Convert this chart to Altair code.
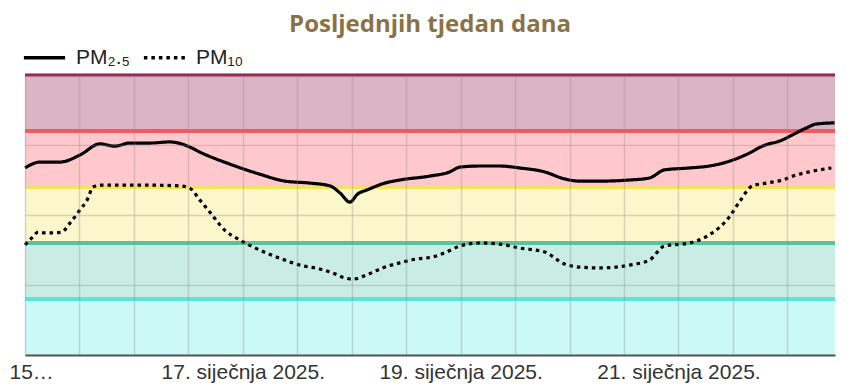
import altair as alt
import pandas as pd

# ---- data ----
pm25_hours = [0, 3.3, 7.7, 12.1, 16.5, 19.8, 23.1, 27.5, 31.9, 36.3, 38.5, 45.1, 51.7, 57.3,
              62.8, 67.2, 69.4, 71.6, 73.3, 75.3, 79.3, 82.6, 89.2, 93.6, 95.8, 100.2, 104.6,
              109.0, 114.5, 118.9, 122.2, 126.6, 133.2, 137.6, 140.9, 146.4, 150.8, 154.6,
              159.6, 162.5, 166.9, 169.1, 172.2, 174.4, 178.4]
pm25_vals = [66.8, 68.9, 68.9, 71.4, 75.4, 74.6, 75.7, 75.7, 76.1, 74.3, 72.5, 68.2, 64.6, 62.1,
             61.4, 60.4, 57.9, 54.6, 57.5, 58.9, 61.4, 62.5, 63.9, 65.4, 67.1, 67.5, 67.5,
             66.8, 65.4, 62.9, 62.1, 62.1, 62.5, 63.2, 66.1, 66.8, 67.5, 68.9,
             72.1, 74.6, 76.8, 78.6, 81.1, 82.5, 82.9]

pm10_hours = [0, 1.5, 2.9, 4.4, 6.2, 8.1, 9.9, 12.1, 13.7, 15.0, 16.5, 25.3, 34.1, 36.3, 38.5,
              40.7, 44.0, 47.3, 51.7, 56.1, 60.6, 65.0, 67.8, 70.5, 72.2, 75.3, 78.8, 82.6,
              86.3, 89.8, 92.9, 95.8, 100.2, 104.6, 109.0, 114.5, 118.9, 122.2, 126.6, 133.2,
              137.6, 140.9, 146.4, 150.8, 155.2, 157.4, 160.3, 163.4, 166.9, 170.0, 172.8, 177.7]
pm10_vals = [39.3, 41.8, 43.9, 43.6, 43.6, 43.9, 47.1, 51.8, 55.4, 60.0, 60.7, 60.7, 60.4, 59.6,
             55.4, 51.1, 44.6, 41.1, 37.5, 34.6, 32.1, 30.7, 29.3, 27.5, 27.1, 28.6, 31.1, 32.9,
             34.3, 35.0, 36.8, 38.9, 40.0, 39.6, 38.2, 36.8, 32.5, 31.4, 31.1, 32.1,
             33.9, 38.9, 40.0, 42.9, 49.3, 54.6, 60.4, 61.4, 62.5, 64.3, 65.4, 66.8]

band_low = [0, 20, 40, 60, 80]
band_high = [20, 40, 60, 80, 100]
band_fill = ["#cbf9f6", "#c9ede3", "#fbf6cc", "#ffc8cc", "#dcb5c5"]
band_line = ["#5be5dd", "#57c3a3", "#f3e35f", "#f25a62", "#8c1c4c"]
band_line_width = [4, 4, 4, 4, 3]

series_names = ["PM₂.₅", "PM₁₀"]
start = pd.Timestamp("2025-01-15T00:00:00")
end_hours = 178.5
tick_hours = list(range(0, 169, 12))

def to_time(hs):
    return [(start + pd.Timedelta(hours=h)).strftime("%Y-%m-%dT%H:%M:%S") for h in hs]

lines_df = pd.DataFrame({
    "t": to_time(pm25_hours) + to_time(pm10_hours),
    "v": pm25_vals + pm10_vals,
    "s": [series_names[0]] * len(pm25_hours) + [series_names[1]] * len(pm10_hours),
})
bands_df = pd.DataFrame({"lo": band_low, "hi": band_high, "fill": band_fill,
                         "line": band_line, "lw": band_line_width})

tick_ms = [int((start + pd.Timedelta(hours=h)).timestamp() * 1000) for h in tick_hours]
dom = [to_time([0])[0], to_time([end_hours])[0]]

label_font = "Liberation Sans Narrow, Liberation Sans"
first_test = "utcdate(datum.value)==15 && utchours(datum.value)==0"

xscale = alt.Scale(type="utc", domain=dom, nice=False)
yscale = alt.Scale(domain=[0, 100], nice=False)

xaxis = alt.Axis(
    values=tick_ms, grid=True, gridColor="#8a8a8a", gridOpacity=0.32, gridWidth=1.5,
    ticks=False, domain=True, domainColor="#555555", domainWidth=2,
    labelFont=label_font, labelFontSize=21, labelColor="#333333", labelPadding=6,
    labelFlush=False, labelOverlap=False, title=None, zindex=1,
    labelAlign={"condition": {"test": first_test, "value": "left"}, "value": "center"},
    labelOffset={"condition": {"test": first_test, "value": -16}, "value": 0},
    labelExpr="utchours(datum.value)==0 && utcdate(datum.value)%2==1 ? (utcdate(datum.value)==15 ? '15…' : utcdate(datum.value) + '. siječnja 2025.') : ''",
)
yaxis = alt.Axis(values=[0, 25, 50, 75, 100], grid=True, gridColor="#8a8a8a", gridOpacity=0.32,
                 gridWidth=1.5, labels=False, ticks=False, domain=False, title=None, zindex=1)

bands = alt.Chart(bands_df).mark_rect().encode(
    y=alt.Y("lo:Q", scale=yscale, axis=yaxis),
    y2="hi:Q",
    color=alt.Color("fill:N", scale=None),
)

band_lines = alt.Chart(bands_df).mark_rule().encode(
    y=alt.Y("hi:Q", scale=yscale),
    color=alt.Color("line:N", scale=None),
    strokeWidth=alt.StrokeWidth("lw:Q", scale=None),
)

lines = alt.Chart(lines_df).mark_line(color="black", strokeWidth=3.2, interpolate="monotone",
                                      strokeCap="butt").encode(
    x=alt.X("t:T", scale=xscale, axis=xaxis),
    y=alt.Y("v:Q", scale=yscale),
    strokeDash=alt.StrokeDash(
        "s:N",
        scale=alt.Scale(domain=series_names, range=[[1, 0], [3.5, 4]]),
        sort=series_names,
        legend=alt.Legend(
            orient="none", legendX=-3, legendY=-40, direction="horizontal", title=None,
            symbolType="stroke", symbolStrokeColor="black", symbolStrokeWidth=3.5,
            symbolSize=1700, labelFont=label_font, labelFontSize=21, labelColor="#222222",
            columnPadding=6, labelOffset=9,
        ),
    ),
    detail="s:N",
)

chart = alt.layer(bands, band_lines, lines).properties(
    width=810, height=280,
    title=alt.TitleParams("Posljednjih tjedan dana", font="Open Sans", fontSize=24,
                          fontWeight="bold", color="#8a7246", anchor="middle", offset=-2),
    autosize=alt.AutoSizeParams(type="none"),
    padding={"left": 17, "top": 67, "right": 6, "bottom": 28},
).configure_view(strokeWidth=0)

chart.save("out.html", embed_options={"renderer": "svg", "actions": False})
